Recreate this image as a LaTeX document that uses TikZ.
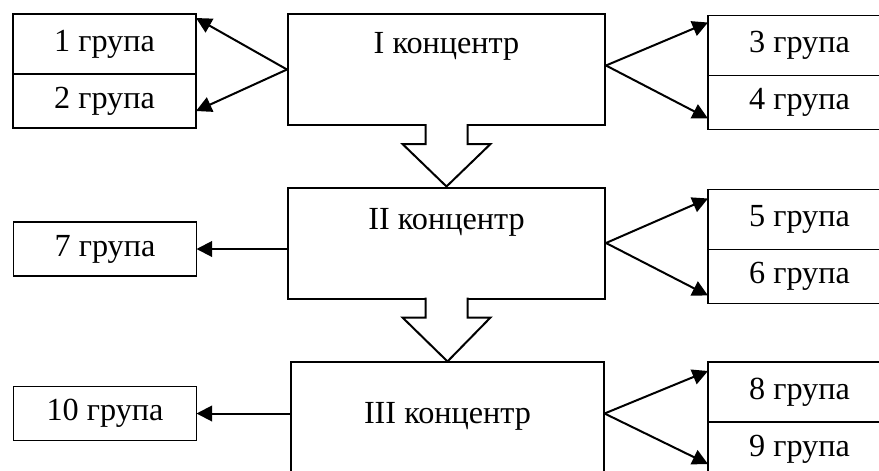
\documentclass[tikz,border=0pt]{standalone}
\usepackage{fontspec}
\setmainfont{Liberation Serif}
\usetikzlibrary{calc,positioning,arrows.meta}

\begin{document}
\begin{tikzpicture}[x=0.45pt, y=-0.45pt,
  every node/.style={font=\fontsize{14.5pt}{17pt}\selectfont},
  grp/.style={draw, line width=0.5pt, outer sep=0pt, minimum width=82.35pt, minimum height=27pt},
  grplow/.style={grp, minimum height=24.3pt},
  conc/.style={draw, line width=0.9pt, minimum width=142.65pt, minimum height=49.95pt},
  conn/.style={line width=0.9pt, -{Triangle[length=7pt,width=7pt]}}]
\useasboundingbox (0,0) rectangle (879,470);
\clip (0,0) rectangle (879,470);

% concentres
\node[conc] (c1) at (446.5,69.5) {};
\node[conc] (c2) at (446.5,243) {};
\node[conc, line width=0.5pt, minimum width=140.85pt] (c3) at (447.5,417.5) {};
\node[anchor=base] (t1) at ($(c1.north)+(0,40.5)$) {I концентр};
\node[anchor=base] (t2) at ($(c2.north)+(0,43)$) {II концентр};
\node[anchor=base] (t3) at ($(c3.north)+(0,62)$) {III концентр};

% groups
\node[grp] (g1) at (104.5,44) {1 група};
\node[grplow, below=0pt of g1] (g2) {2 група};
\node[grp] (g3) at (799.5,45.5) {3 група};
\node[grplow, below=0pt of g3] (g4) {4 група};
\node[grp] (g5) at (799.5,219.5) {5 група};
\node[grplow, below=0pt of g5] (g6) {6 група};
\node[grplow] (g7) at (105,249) {7 група};
\node[grp] (g8) at (799.5,392) {8 група};
\node[grplow, below=0pt of g8] (g9) {9 група};
\node[grplow] (g10) at (105,413.5) {10 група};

% block arrows between concentres
\foreach \a/\b in {c1/c2, c2/c3}
  \draw[line width=0.9pt, fill=white] ($(\a.south)+(-21,-2)$) -- ++(0,20) -- ++(-23,0)
    -- (\b.north) -- ($(\a.south)+(44,18)$) -- ++(-23,0) -- ++(0,-20);

\draw[conn] (c1.west) -- ($(g1.north east)+(0,4)$);
\draw[conn] (c1.west) -- ($(g2.south east)+(0,-17)$);
\draw[conn] ($(c1.east)+(0,-4)$) -- ($(g3.north west)+(0,7)$);
\draw[conn] ($(c1.east)+(0,-4)$) -- ($(g4.south west)+(0,-11)$);
\draw[conn] ($(c2.west)+(0,6)$) -- (g7.east);
\draw[conn] (c2.east) -- ($(g5.north west)+(0,9)$);
\draw[conn] (c2.east) -- ($(g6.south west)+(0,-8)$);
\draw[conn] ($(c3.west)+(0,-4)$) -- (g10.east);
\draw[conn] ($(c3.east)+(0,-4)$) -- ($(g8.north west)+(0,9)$);
\draw[conn] ($(c3.east)+(0,-4)$) -- ($(g9.north west)+(0,42)$);
\end{tikzpicture}
\end{document}
